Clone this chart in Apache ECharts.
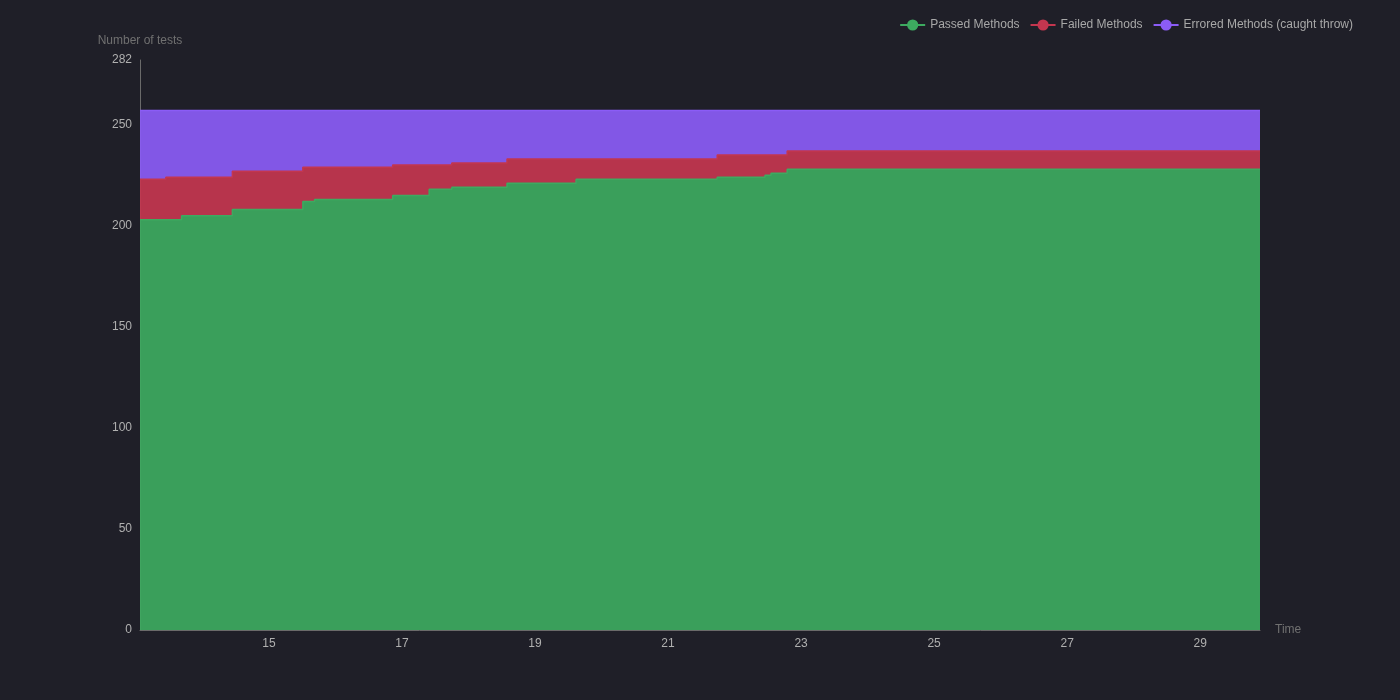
<!DOCTYPE html>
<html lang="en">

<head>
    <meta charset="UTF-8">
    <title>Test Methods</title>
    <script src="https://cdn.jsdelivr.net/npm/echarts@6/dist/echarts.min.js"></script>
    <style>
        html, body { margin: 0; padding: 0; background: #1f1f28; }
        #chart { width: 1400px; height: 700px; }
    </style>
</head>

<body>
    <div id="chart"></div>
    <script>
        // run times (local time) where the counts changed
        const times = [
            '2024-05-13 01:30', '2024-05-13 10:50', '2024-05-13 16:30', '2024-05-14 10:50',
            '2024-05-15 12:15', '2024-05-15 16:30', '2024-05-16 20:40', '2024-05-17 09:50',
            '2024-05-17 18:00', '2024-05-18 13:55', '2024-05-19 14:50', '2024-05-21 17:45',
            '2024-05-22 11:00', '2024-05-22 13:10', '2024-05-22 19:00', '2024-05-29 21:35'
        ];
        const passed  = [203, 203, 205, 208, 212, 213, 215, 218, 219, 221, 223, 224, 225, 226, 228, 228];
        const failed  = [20, 21, 19, 19, 17, 16, 15, 12, 12, 12, 10, 11, 10, 9, 9, 9];
        const errored = [34, 33, 33, 30, 28, 28, 27, 27, 26, 24, 24, 22, 22, 22, 20, 20];

        const yTicks = { min: 0, max: 282, interval: 50 };

        const lineColors = ['#3daa60', '#c4364f', '#8b5cf6'];

        var chartDom = document.getElementById('chart');
        var myChart = echarts.init(chartDom);

        function makeSeries(name, values, color) {
            return {
                name: name,
                type: 'line',
                stack: 'total',
                step: 'end',
                showSymbol: false,
                symbol: 'circle',
                symbolSize: 8,
                color: color,
                lineStyle: { width: 1.5, color: color },
                areaStyle: { color: color, opacity: 0.92 },
                data: times.map((t, i) => [t, values[i]])
            };
        }

        var option = {
            backgroundColor: '#1f1f28',
            animation: false,
            textStyle: { fontFamily: 'Liberation Sans, Arial, sans-serif' },
            legend: {
                top: 14,
                right: 42,
                itemGap: 10,
                textStyle: { color: '#a8a8a8', fontSize: 12 },
                data: ['Passed Methods', 'Failed Methods', 'Errored Methods (caught throw)']
            },
            grid: { left: 140, right: 140, top: 60, bottom: 70 },
            xAxis: {
                type: 'time',
                min: 'dataMin',
                max: 'dataMax',
                name: 'Time',
                nameGap: 15,
                nameTextStyle: { color: '#707070', fontSize: 12 },
                axisLine: { show: true, lineStyle: { color: '#6a6a6a' } },
                axisTick: { show: false },
                splitLine: { show: false },
                axisLabel: { color: '#b0b0b0', fontSize: 12, margin: 8 }
            },
            yAxis: {
                type: 'value',
                min: yTicks.min,
                max: yTicks.max,
                interval: yTicks.interval,
                name: 'Number of tests',
                nameGap: 13,
                nameTextStyle: { color: '#707070', fontSize: 12 },
                axisLine: { show: true, lineStyle: { color: '#6a6a6a' } },
                axisTick: { show: false },
                splitLine: { show: false },
                axisLabel: { color: '#b0b0b0', fontSize: 12, margin: 8 }
            },
            series: [
                makeSeries('Passed Methods', passed, lineColors[0]),
                makeSeries('Failed Methods', failed, lineColors[1]),
                makeSeries('Errored Methods (caught throw)', errored, lineColors[2])
            ]
        };

        option && myChart.setOption(option);
    </script>

</body>

</html>
